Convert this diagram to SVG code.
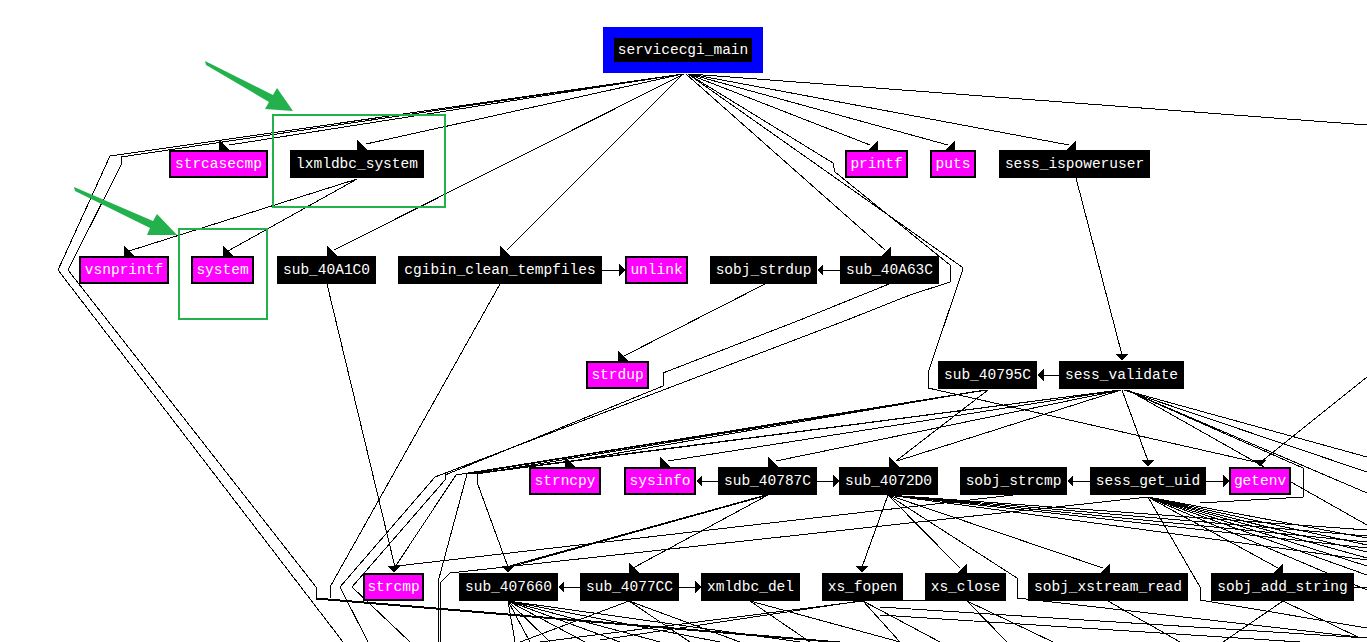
<svg xmlns="http://www.w3.org/2000/svg" width="1367" height="642" viewBox="0 0 1367 642">
<style>
.e{fill:none;stroke:#000;stroke-width:1}
.ah{fill:#000}
.nb{fill:#000}
.nm{fill:#f0f;stroke:#000;stroke-width:2}
.t{font-family:"Liberation Mono","DejaVu Sans Mono",monospace;font-size:14.5px;fill:#fff;text-anchor:middle}
.g{fill:none;stroke:#22b14c;stroke-width:2}
.ga{fill:#22b14c}
</style>
<rect width="1367" height="642" fill="#fff"/>
<g id="connectors" shape-rendering="crispEdges">
<polyline class="e" points="683,74 229,145"/>
<polyline class="e" points="683,74 366,144"/>
<polyline class="e" points="683,74 110,156 58,270 343,642"/>
<polyline class="e" points="683,74 121,157 121,165 68,270 316,587 316,598 460,610 840,642"/>
<polyline class="e" points="316,599 460,611 830,642"/>
<polyline class="e" points="684,74 334,250"/>
<polyline class="e" points="683,74 507,250"/>
<polyline class="e" points="686,74 885,250"/>
<polyline class="e" points="688,74 962,267 962,272 928,373 928,388 1255,462"/>
<polyline class="e" points="688,74 833,163 835,172 950,265 950,282 910,295 847,320 435,477 340,587 368,642"/>
<polyline class="e" points="688,74 870,145"/>
<polyline class="e" points="689,74 948,145"/>
<polyline class="e" points="690,74 1069,145"/>
<polyline class="e" points="690,74 1367,125"/>
<polyline class="e" points="357,179 129,251"/>
<polyline class="e" points="357,179 228,251"/>
<polyline class="e" points="327,284 395,567"/>
<polyline class="e" points="500,284 330,587 330,598"/>
<polyline class="e" points="602,270 619,270"/>
<polyline class="e" points="840,270 823,270"/>
<polyline class="e" points="765,284 624,356"/>
<polyline class="e" points="889,284 800,320 663,373 663,386 445,475 445,480 352,587 410,642"/>
<polyline class="e" points="1076,178 1122,355"/>
<polyline class="e" points="1059,375 1044,375"/>
<polyline class="e" points="985,390 572,461"/>
<polyline class="e" points="985,390 456,475 395,567"/>
<polyline class="e" points="985,390 467,474 438,582 438,642"/>
<polyline class="e" points="986,390 477,474 477,482 508,567"/>
<polyline class="e" points="987,390 462,474"/>
<polyline class="e" points="1120,390 470,474"/>
<polyline class="e" points="1120,390 482,473"/>
<polyline class="e" points="1120,390 668,461"/>
<polyline class="e" points="1121,390 776,461"/>
<polyline class="e" points="1121,390 897,461"/>
<polyline class="e" points="988,390 896,461"/>
<polyline class="e" points="1122,390 1148,461"/>
<polyline class="e" points="1124,390 1367,457"/>
<polyline class="e" points="1124,390 1367,472"/>
<polyline class="e" points="1126,390 1367,493"/>
<polyline class="e" points="1128,390 1367,525"/>
<polyline class="e" points="1126,390 1303,468 1303,497 1200,503"/>
<polyline class="e" points="1367,377 1262,461"/>
<polyline class="e" points="718,481 702,481"/>
<polyline class="e" points="817,481 833,481"/>
<polyline class="e" points="1090,481 1073,481"/>
<polyline class="e" points="1206,481 1223,481"/>
<polyline class="e" points="768,495 633,568"/>
<polyline class="e" points="768,495 510,567"/>
<polyline class="e" points="766,495 506,567"/>
<polyline class="e" points="888,495 862,567"/>
<polyline class="e" points="888,495 960,568"/>
<polyline class="e" points="888,495 1103,568"/>
<polyline class="e" points="888,495 1017,578 1017,598 1367,638"/>
<polyline class="e" points="888,495 1367,530"/>
<polyline class="e" points="888,495 1367,536"/>
<polyline class="e" points="888,495 1367,542"/>
<polyline class="e" points="888,495 1367,548"/>
<polyline class="e" points="888,495 1367,560"/>
<polyline class="e" points="1013,495 397,566"/>
<polyline class="e" points="1148,497 450,573 440,583 440,642"/>
<polyline class="e" points="1148,497 1278,568"/>
<polyline class="e" points="1148,497 1200,587 1200,600 1367,628"/>
<polyline class="e" points="1148,497 1367,538"/>
<polyline class="e" points="1148,497 1367,545"/>
<polyline class="e" points="1148,497 1367,552"/>
<polyline class="e" points="1148,497 1367,558"/>
<polyline class="e" points="1148,497 1367,566"/>
<polyline class="e" points="1148,497 1367,575"/>
<polyline class="e" points="1148,497 1367,590"/>
<polyline class="e" points="580,587 564,587"/>
<polyline class="e" points="679,587 695,587"/>
<polyline class="e" points="1354,587 1367,587"/>
<polyline class="e" points="508,601 515,642"/>
<polyline class="e" points="508,601 530,642"/>
<polyline class="e" points="508,601 550,642"/>
<polyline class="e" points="508,601 585,642"/>
<polyline class="e" points="508,601 620,642"/>
<polyline class="e" points="508,601 660,642"/>
<polyline class="e" points="508,601 720,642"/>
<polyline class="e" points="508,601 800,642"/>
<polyline class="e" points="629,601 520,642"/>
<polyline class="e" points="629,601 690,642"/>
<polyline class="e" points="629,601 740,642"/>
<polyline class="e" points="750,601 810,642"/>
<polyline class="e" points="750,601 900,642"/>
<polyline class="e" points="863,601 540,642"/>
<polyline class="e" points="863,601 900,642"/>
<polyline class="e" points="863,601 940,642"/>
<polyline class="e" points="967,601 1007,642"/>
<polyline class="e" points="967,601 1053,642"/>
<polyline class="e" points="1108,601 1180,642"/>
<polyline class="e" points="1283,601 1223,642"/>
<polyline class="e" points="1283,601 1360,638"/>
<polyline class="e" points="880,607 1367,638"/>
<polyline class="e" points="600,640 860,601 1000,600"/>
<polyline class="e" points="880,615 1300,642"/>
</g>
<g id="arrowheads" shape-rendering="crispEdges">
<polygon class="ah" points="219,140 219,150 229,150"/>
<polygon class="ah" points="357,140 357,150 367,150"/>
<polygon class="ah" points="878,140 878,150 868,150"/>
<polygon class="ah" points="955,140 955,150 945,150"/>
<polygon class="ah" points="1076,140 1076,150 1066,150"/>
<polygon class="ah" points="124,246 124,256 134,256"/>
<polygon class="ah" points="223,246 223,256 233,256"/>
<polygon class="ah" points="327,246 327,256 337,256"/>
<polygon class="ah" points="500,246 500,256 510,256"/>
<polygon class="ah" points="891,246 891,256 881,256"/>
<polygon class="ah" points="625,270 619,264 619,276"/>
<polygon class="ah" points="817,270 823,264 823,276"/>
<polygon class="ah" points="618,351 618,361 628,361"/>
<polygon class="ah" points="1116,354 1128,354 1122,361"/>
<polygon class="ah" points="1037,375 1044,369 1044,381"/>
<polygon class="ah" points="565,457 565,467 575,467"/>
<polygon class="ah" points="660,457 660,467 670,467"/>
<polygon class="ah" points="768,457 768,467 778,467"/>
<polygon class="ah" points="889,457 889,467 899,467"/>
<polygon class="ah" points="1142,460 1154,460 1148,467"/>
<polygon class="ah" points="1254,460 1266,460 1260,467"/>
<polygon class="ah" points="696,481 702,475 702,487"/>
<polygon class="ah" points="839,481 833,475 833,487"/>
<polygon class="ah" points="1067,481 1073,475 1073,487"/>
<polygon class="ah" points="1229,481 1223,475 1223,487"/>
<polygon class="ah" points="388,566 400,566 394,573"/>
<polygon class="ah" points="502,566 514,566 508,573"/>
<polygon class="ah" points="629,563 629,573 639,573"/>
<polygon class="ah" points="856,566 868,566 862,573"/>
<polygon class="ah" points="967,563 967,573 957,573"/>
<polygon class="ah" points="1110,563 1110,573 1100,573"/>
<polygon class="ah" points="1283,563 1283,573 1273,573"/>
<polygon class="ah" points="558,587 564,581 564,593"/>
<polygon class="ah" points="701,587 695,581 695,593"/>
</g>
<g id="n_servicecgi_main"><rect x="603" y="27" width="160" height="46" fill="#0000ff"/><rect class="nb" x="614" y="38" width="138" height="24"/><text class="t" x="683" y="54">servicecgi_main</text></g>
<g id="n_strcasecmp"><rect class="nm" x="170" y="151" width="97" height="26"/><text class="t" x="218.5" y="168">strcasecmp</text></g>
<g id="n_lxmldbc_system"><rect class="nb" x="290" y="150" width="134" height="28"/><text class="t" x="357" y="168">lxmldbc_system</text></g>
<g id="n_printf"><rect class="nm" x="846" y="151" width="61" height="26"/><text class="t" x="876.5" y="168">printf</text></g>
<g id="n_puts"><rect class="nm" x="931" y="151" width="44" height="26"/><text class="t" x="953" y="168">puts</text></g>
<g id="n_sess_ispoweruser"><rect class="nb" x="999" y="150" width="151" height="28"/><text class="t" x="1074.5" y="168">sess_ispoweruser</text></g>
<g id="n_vsnprintf"><rect class="nm" x="80" y="257" width="88" height="26"/><text class="t" x="124" y="274">vsnprintf</text></g>
<g id="n_system"><rect class="nm" x="192" y="257" width="61" height="26"/><text class="t" x="222.5" y="274">system</text></g>
<g id="n_sub_40A1C0"><rect class="nb" x="277" y="256" width="99" height="28"/><text class="t" x="326.5" y="274">sub_40A1C0</text></g>
<g id="n_cgibin_clean_tempfiles"><rect class="nb" x="398" y="256" width="204" height="28"/><text class="t" x="500" y="274">cgibin_clean_tempfiles</text></g>
<g id="n_unlink"><rect class="nm" x="626" y="257" width="61" height="26"/><text class="t" x="656.5" y="274">unlink</text></g>
<g id="n_sobj_strdup"><rect class="nb" x="710" y="256" width="107" height="28"/><text class="t" x="763.5" y="274">sobj_strdup</text></g>
<g id="n_sub_40A63C"><rect class="nb" x="840" y="256" width="99" height="28"/><text class="t" x="889.5" y="274">sub_40A63C</text></g>
<g id="n_strdup"><rect class="nm" x="587" y="362" width="61" height="26"/><text class="t" x="617.5" y="379">strdup</text></g>
<g id="n_sub_40795C"><rect class="nb" x="938" y="361" width="99" height="28"/><text class="t" x="987.5" y="379">sub_40795C</text></g>
<g id="n_sess_validate"><rect class="nb" x="1059" y="361" width="125" height="28"/><text class="t" x="1121.5" y="379">sess_validate</text></g>
<g id="n_strncpy"><rect class="nm" x="530" y="468" width="70" height="26"/><text class="t" x="565" y="485">strncpy</text></g>
<g id="n_sysinfo"><rect class="nm" x="625" y="468" width="70" height="26"/><text class="t" x="660" y="485">sysinfo</text></g>
<g id="n_sub_40787C"><rect class="nb" x="718" y="467" width="99" height="28"/><text class="t" x="767.5" y="485">sub_40787C</text></g>
<g id="n_sub_4072D0"><rect class="nb" x="839" y="467" width="99" height="28"/><text class="t" x="888.5" y="485">sub_4072D0</text></g>
<g id="n_sobj_strcmp"><rect class="nb" x="960" y="467" width="107" height="28"/><text class="t" x="1013.5" y="485">sobj_strcmp</text></g>
<g id="n_sess_get_uid"><rect class="nb" x="1090" y="467" width="116" height="28"/><text class="t" x="1148" y="485">sess_get_uid</text></g>
<g id="n_getenv"><rect class="nm" x="1230" y="468" width="60" height="26"/><text class="t" x="1260" y="485">getenv</text></g>
<g id="n_strcmp"><rect class="nm" x="364" y="574" width="59" height="26"/><text class="t" x="393.5" y="591">strcmp</text></g>
<g id="n_sub_407660"><rect class="nb" x="459" y="573" width="99" height="28"/><text class="t" x="508.5" y="591">sub_407660</text></g>
<g id="n_sub_4077CC"><rect class="nb" x="580" y="573" width="99" height="28"/><text class="t" x="629.5" y="591">sub_4077CC</text></g>
<g id="n_xmldbc_del"><rect class="nb" x="701" y="573" width="99" height="28"/><text class="t" x="750.5" y="591">xmldbc_del</text></g>
<g id="n_xs_fopen"><rect class="nb" x="822" y="573" width="81" height="28"/><text class="t" x="862.5" y="591">xs_fopen</text></g>
<g id="n_xs_close"><rect class="nb" x="925" y="573" width="81" height="28"/><text class="t" x="965.5" y="591">xs_close</text></g>
<g id="n_sobj_xstream_read"><rect class="nb" x="1028" y="573" width="160" height="28"/><text class="t" x="1108" y="591">sobj_xstream_read</text></g>
<g id="n_sobj_add_string"><rect class="nb" x="1211" y="573" width="143" height="28"/><text class="t" x="1282.5" y="591">sobj_add_string</text></g>
<g id="annotations">
<rect class="g" x="273" y="115" width="172" height="92"/>
<rect class="g" x="179" y="229" width="88" height="90"/>
<polygon class="ga" points="205,61 273,95 277,88 293,111 265,109 269,102 206,65"/>
<polygon class="ga" points="74,187 153,221 157,214 177,235 147,235 150,228 75,191"/>
</g>
</svg>
